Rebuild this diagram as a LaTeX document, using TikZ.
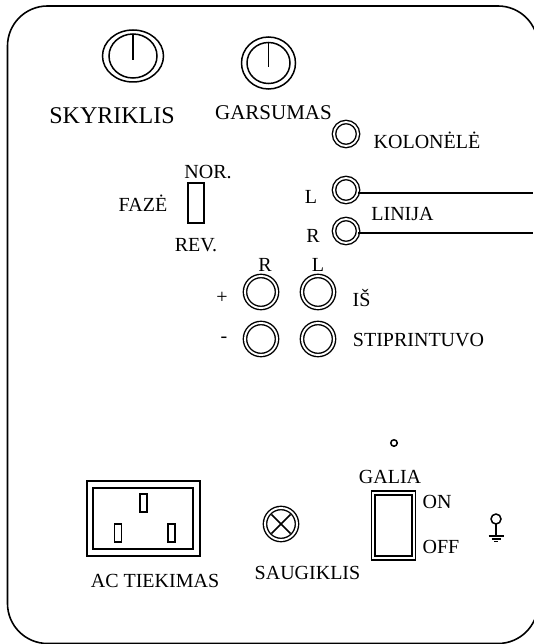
\documentclass[tikz,border=0pt]{standalone}
\usepackage{fontspec}
\setmainfont{Liberation Serif}
\usetikzlibrary{%
  shapes.geometric,%
  shapes.misc%
}
\begin{document}
\begin{tikzpicture}
[x=1pt, y=-1pt, line width=1.5pt,
panel/.style={rectangle, draw, minimum width=530.5pt, minimum height=637.5pt, rounded corners=40pt, line width=1.6pt},
knob/.style={ellipse, draw, inner sep=0pt, outer sep=0pt},
jack/.style={circle, draw, inner sep=0pt, outer sep=0pt, double, double distance=1.9pt, line width=1.4pt},
box/.style={rectangle, draw, inner sep=0pt, outer sep=0pt},
label/.style={inner sep=0pt, font=\fontsize{20}{20}\selectfont}]

\useasboundingbox (0,0) rectangle (533,644);

\node[panel] (panel) at (272.75,324.75) {};

\node[knob, minimum width=61pt, minimum height=52pt] (knob1o) at (133,56) {};
\node[knob, minimum width=48pt, minimum height=44pt] (knob1i) at (133,56) {};
\coordinate (knob1p) at (133,60);
\draw (knob1i.north) -- (knob1p);
\node[knob, minimum width=54pt, minimum height=52pt] (knob2o) at (268.5,63) {};
\node[knob, minimum width=43pt, minimum height=41pt] (knob2i) at (268.5,63) {};
\coordinate (knob2p) at (268.5,67);
\draw (knob2i.north) -- (knob2p);

\node[label, font=\fontsize{24}{24}\selectfont] (skyriklis) at (112,116) {SKYRIKLIS};
\node[label, font=\fontsize{21}{21}\selectfont] (garsumas) at (273.5,113) {GARSUMAS};

\node[jack, minimum size=24pt] (kolonele) at (346,134) {};
\node[label] (koloneletxt) at (427,140) {KOLONĖLĖ};
\node[jack, minimum size=24pt] (lineL) at (346,190) {};
\node[jack, minimum size=24pt] (lineR) at (346,231) {};
\coordinate (lineLend) at (533,193);
\coordinate (lineRend) at (533,233);
\draw (lineL.east |- lineLend) -- (lineLend);
\draw (lineR.east |- lineRend) -- (lineRend);
\node[label] (lineLtxt) at (311,197) {L};
\node[label] (lineRtxt) at (313,236) {R};
\node[label] (linija) at (402.5,214) {LINIJA};

\node[box, minimum width=16pt, minimum height=40pt] (faze) at (196,203) {};
\node[label] (fazetxt) at (143,203) {FAZĖ};
\node[label] (nor) at (208,172) {NOR.};
\node[label] (rev) at (196,245) {REV.};

\node[jack, minimum size=32pt] (ampRp) at (261,292) {};
\node[jack, minimum size=32pt] (ampLp) at (318,292) {};
\node[jack, minimum size=32pt] (ampRm) at (261,339) {};
\node[jack, minimum size=32pt] (ampLm) at (318,339) {};
\node[label] (ampR) at (265,265) {R};
\node[label] (ampL) at (318,265) {L};
\node[label] (plus) at (222,298) {+};
\node[label] (minus) at (224,340) {-};
\node[label] (is) at (361.5,298) {IŠ};
\node[label] (stiprintuvo) at (418.5,340) {STIPRINTUVO};

\node[box, minimum width=113pt, minimum height=75pt] (acout) at (143.5,518.5) {};
\node[box, minimum width=100pt, minimum height=61pt] (acin) at (143,518.5) {};
\node[box, minimum width=7pt, minimum height=18pt] (pin1) at (143.5,503) {};
\node[box, minimum width=7pt, minimum height=18pt] (pin2) at (118,533) {};
\node[box, minimum width=7pt, minimum height=18pt] (pin3) at (171.5,533) {};
\node[label] (ac) at (155,581) {AC TIEKIMAS};

\node[jack, minimum size=32pt] (fuse) at (281,524) {};
\node[circle, inner sep=0pt, outer sep=0pt, minimum size=27pt] (fusein) at (281,524) {};
\draw (fusein.north west) -- (fusein.south east);
\draw (fusein.north east) -- (fusein.south west);
\node[label] (saugiklis) at (307.5,573) {SAUGIKLIS};

\node[circle, draw, inner sep=0pt, minimum size=6.5pt] (led) at (394,443) {};
\node[box, minimum width=44pt, minimum height=69pt, line width=1.8pt] (swout) at (393.5,525.5) {};
\node[box, minimum width=37pt, minimum height=61pt] (swin) at (393.5,525.5) {};
\node[label] (galia) at (390,477) {GALIA};
\node[label] (on) at (437,502) {ON};
\node[label] (off) at (441,547) {OFF};

\node[circle, draw, inner sep=0pt, outer sep=0pt, minimum size=10pt] (gnd) at (496,519) {};
\coordinate (gnd1) at (496,536);
\coordinate (gnd2a) at (488.5,536);
\coordinate (gnd2b) at (503.5,536);
\coordinate (gnd3a) at (491.5,539);
\coordinate (gnd3b) at (500.5,539);
\coordinate (gnd4a) at (494,541.5);
\coordinate (gnd4b) at (498,541.5);
\draw (gnd.south) -- (gnd1);
\draw (gnd2a) -- (gnd2b);
\draw (gnd3a) -- (gnd3b);
\draw (gnd4a) -- (gnd4b);
\end{tikzpicture}
\end{document}
